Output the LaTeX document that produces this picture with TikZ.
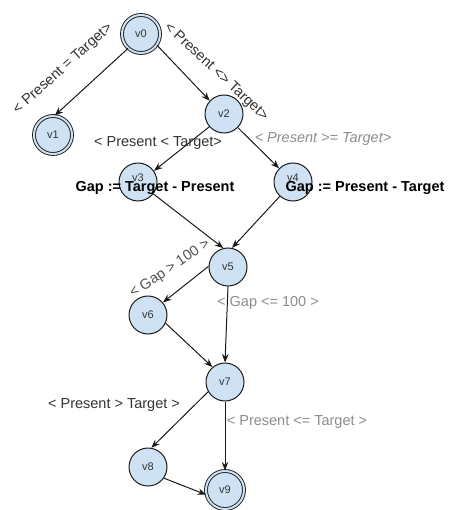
\documentclass[tikz,border=0pt]{standalone}
\usepackage{fontspec}
\setmainfont{Liberation Sans}
\usetikzlibrary{arrows.meta}
\definecolor{nodefill}{HTML}{CFE2F3}
\definecolor{linec}{HTML}{1A1A1A}
\definecolor{darklab}{HTML}{333333}
\definecolor{graylab}{HTML}{8C8C8C}
\begin{document}
\begin{tikzpicture}[x=1pt,y=-1pt,
  vert/.style={circle, draw=linec, fill=nodefill, line width=1pt, minimum size=38pt, inner sep=0pt, font=\fontsize{11}{12}\selectfont, text=darklab},
  final/.style={vert, double=nodefill, double distance=2pt, line width=0.9pt},
  edge/.style={draw=linec, line width=1pt, -{Stealth[length=8.5pt,width=6.5pt]}},
  lab/.style={font=\fontsize{14.5}{16}\selectfont, text=darklab, inner sep=0pt},
  glab/.style={lab, text=graylab},
  blab/.style={lab, font=\fontsize{14.5}{16}\selectfont\bfseries, text=black}]
\useasboundingbox (0,0) rectangle (454,510);
% nodes
\node[final] (v0) at (141,34) {v0};
\node[final] (v1) at (53,135) {v1};
\node[vert]  (v2) at (224,114) {v2};
\node[vert]  (v3) at (138,182) {\raisebox{9pt}{v3}};
\node[vert]  (v4) at (293,182) {\raisebox{9pt}{v4}};
\node[vert]  (v5) at (228,267) {v5};
\node[vert]  (v6) at (148,315) {v6};
\node[vert]  (v7) at (225,382) {v7};
\node[vert]  (v8) at (148,467) {v8};
\node[final] (v9) at (225,490) {v9};
% edges
\draw[edge] (v0.228) -- (v1.85);
\draw[edge] (v0.-35) -- (v2.137);
\draw[edge] (v2.221) -- (v3.35);
\draw[edge] (v2) -- (v4);
\draw[edge] (v3) -- (v5.104);
\draw[edge] (v4) -- (v5.78);
\draw[edge] (v5.178) -- (v6.40);
\draw[edge] (v5.south) -- (v7.north);
\draw[edge] (v6.-25) -- (v7.130);
\draw[edge] (v7.210) -- (v8.80);
\draw[edge] (v7.south) -- (v9.north);
\draw[edge] (v8.-35) -- (v9.194);
% labels
\node[lab, rotate=42] (l01) at (63,69) {< Present = Target>};
\node[lab, rotate=-43] (l02) at (216,72) {< Present <> Target>};
\node[lab] (l23) at (158,143) {< Present < Target>};
\node[glab, font=\fontsize{14.5}{16}\selectfont\itshape] (l24) at (323,139) {< Present >= Target>};
\node[blab] (a3) at (155,188) {Gap := Target - Present};
\node[blab] (a4) at (365,188) {Gap := Present - Target};
\node[lab, rotate=34, text=darklab!85] (l56) at (170,269) {< Gap > 100 >};
\node[glab] (l57) at (268,303) {< Gap <= 100 >};
\node[lab] (l78) at (114,405) {< Present > Target >};
\node[glab] (l79) at (297,422) {< Present <= Target >};
\end{tikzpicture}
\end{document}
